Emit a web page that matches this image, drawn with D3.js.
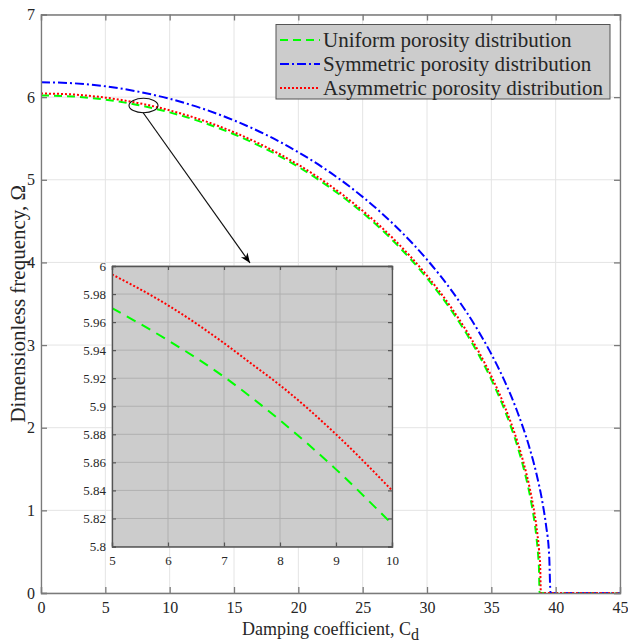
<!DOCTYPE html>
<html><head><meta charset="utf-8">
<script src="https://cdn.jsdelivr.net/npm/d3@7"></script>
<style>
body{margin:0;background:#fff}
svg text{font-family:'Liberation Serif','Times New Roman',serif !important;fill:#262626}
</style>
</head><body>
<svg id="c" width="628" height="644"></svg>
<script>
// ---- data ----
const uniformCd    = [0, 2.5, 5, 6, 7, 7.5, 8, 9, 10, 12.5, 15, 17.5, 20, 22.5, 25, 27.5, 30, 32, 34, 35, 36, 37, 37.5, 38, 38.25, 38.5, 38.65, 38.7, 38.75, 45];
const uniformOmega = [6.020, 6.008, 5.970, 5.947, 5.921, 5.906, 5.890, 5.855, 5.816, 5.698, 5.551, 5.371, 5.156, 4.901, 4.600, 4.241, 3.810, 3.395, 2.888, 2.584, 2.227, 1.789, 1.517, 1.179, 0.964, 0.683, 0.432, 0.306, 0, 0];

const symmetricCd    = [0, 2.5, 5, 7.5, 10, 12.5, 15, 17.5, 20, 22.5, 25, 27.5, 30, 32, 34, 35, 36, 37, 38, 38.5, 39, 39.25, 39.5, 39.6, 45];
const symmetricOmega = [6.180, 6.168, 6.131, 6.068, 5.980, 5.864, 5.719, 5.544, 5.334, 5.086, 4.793, 4.447, 4.034, 3.640, 3.168, 2.891, 2.575, 2.202, 1.739, 1.447, 1.072, 0.820, 0.439, 0, 0];

const asymmetricCd    = [0, 2.5, 5, 6, 7, 7.5, 8, 9, 10, 12.5, 15, 17.5, 20, 22.5, 25, 27.5, 30, 32, 34, 35, 36, 37, 37.5, 38, 38.25, 38.5, 38.7, 38.8, 38.85, 45];
const asymmetricOmega = [6.044, 6.032, 5.994, 5.972, 5.945, 5.930, 5.915, 5.880, 5.840, 5.723, 5.575, 5.396, 5.182, 4.927, 4.626, 4.269, 3.840, 3.427, 2.924, 2.623, 2.272, 1.843, 1.579, 1.257, 1.058, 0.810, 0.531, 0.307, 0, 0];

const seriesNames = ["Uniform porosity distribution", "Symmetric porosity distribution", "Asymmetric porosity distribution"];
const xTickValues = [0, 5, 10, 15, 20, 25, 30, 35, 40, 45];
const yTickValues = [0, 1, 2, 3, 4, 5, 6, 7];
const insetXTickValues = [5, 6, 7, 8, 9, 10];
const insetYTickValues = [5.8, 5.82, 5.84, 5.86, 5.88, 5.9, 5.92, 5.94, 5.96, 5.98, 6];

// ---- styles ----
const styles = [
  {color: "#00ff00", dash: "8,5", w: 2},
  {color: "#0000ff", dash: "9,3,2,3", w: 2},
  {color: "#ff0000", dash: "2,2", w: 2}
];
const seriesData = [
  uniformCd.map((c, i) => [c, uniformOmega[i]]),
  symmetricCd.map((c, i) => [c, symmetricOmega[i]]),
  asymmetricCd.map((c, i) => [c, asymmetricOmega[i]])
];

const svg = d3.select("#c");
const L = 41, R = 620, T = 14.5, B = 593;
const x = d3.scaleLinear().domain([0, 45]).range([L, R]);
const y = d3.scaleLinear().domain([0, 7]).range([B, T]);
const serif = "'Liberation Serif', 'Times New Roman', serif";

// grid
const g = svg.append("g");
g.selectAll(".vg").data(xTickValues).join("line")
  .attr("x1", d => x(d)).attr("x2", d => x(d)).attr("y1", T).attr("y2", B)
  .attr("stroke", "#e4e4e4").attr("stroke-width", 1);
g.selectAll(".hg").data(yTickValues).join("line")
  .attr("x1", L).attr("x2", R).attr("y1", d => y(d)).attr("y2", d => y(d))
  .attr("stroke", "#e4e4e4").attr("stroke-width", 1);

// curves
const line = d3.line().x(d => x(d[0])).y(d => y(d[1])).curve(d3.curveMonotoneX);
seriesData.forEach((s, i) => {
  svg.append("path").datum(s).attr("d", line)
    .attr("fill", "none").attr("stroke", styles[i].color)
    .attr("stroke-width", styles[i].w).attr("stroke-dasharray", styles[i].dash);
});

// axes
const axColor = "#7a7a7a";
const axB = svg.append("g").attr("transform", `translate(0,${B})`)
  .call(d3.axisBottom(x).tickValues(xTickValues).tickSize(-6).tickPadding(9).tickFormat(d3.format("d")));
const axT = svg.append("g").attr("transform", `translate(0,${T})`)
  .call(d3.axisTop(x).tickValues(xTickValues).tickSize(-6).tickFormat(""));
const axL = svg.append("g").attr("transform", `translate(${L},0)`)
  .call(d3.axisLeft(y).tickValues(yTickValues).tickSize(-6).tickPadding(6).tickFormat(d3.format("d")));
const axR = svg.append("g").attr("transform", `translate(${R},0)`)
  .call(d3.axisRight(y).tickValues(yTickValues).tickSize(-6).tickFormat(""));
[axB, axT, axL, axR].forEach(a => {
  a.attr("font-family", serif);
  a.select(".domain").attr("stroke", axColor).attr("stroke-width", 1.3);
  a.selectAll(".tick line").attr("stroke", axColor).attr("stroke-width", 1.3);
  a.selectAll(".tick text").attr("font-size", 16).style("font-family", serif).attr("fill", "#262626");
});

// axis labels
const xl = svg.append("text").attr("x", (L + R) / 2).attr("y", 635).attr("text-anchor", "middle").attr("font-size", 18);
xl.append("tspan").text("Damping coefficient, C");
xl.append("tspan").attr("dy", 5).attr("font-size", 16).text("d");
svg.append("text").attr("transform", `translate(25,${(T + B) / 2}) rotate(-90)`)
  .attr("text-anchor", "middle").attr("font-size", 21).text("Dimensionless frequency, Ω");

// legend
const lg = svg.append("g");
lg.append("rect").attr("x", 276).attr("y", 24.5).attr("width", 334).attr("height", 74.5)
  .attr("fill", "#cccccc").attr("stroke", "#555").attr("stroke-width", 1);
seriesNames.forEach((n, i) => {
  const yy = 40 + i * 24;
  lg.append("line").attr("x1", 280).attr("x2", 320).attr("y1", yy).attr("y2", yy)
    .attr("stroke", styles[i].color).attr("stroke-width", styles[i].w).attr("stroke-dasharray", styles[i].dash);
  lg.append("text").attr("x", 323).attr("y", yy + 7).attr("font-size", 21).attr("fill", "#111").text(n);
});

// ellipse + arrow
svg.append("defs").append("marker").attr("id", "ah").attr("viewBox", "0 0 10 10")
  .attr("refX", 10).attr("refY", 5).attr("markerWidth", 14).attr("markerHeight", 10)
  .attr("markerUnits", "userSpaceOnUse").attr("orient", "auto")
  .append("path").attr("d", "M0,1 L10,5 L0,9 L3,5 Z").attr("fill", "#000");
svg.append("ellipse").attr("cx", 143.5).attr("cy", 105.5).attr("rx", 14.5).attr("ry", 7.2)
  .attr("fill", "none").attr("stroke", "#111").attr("stroke-width", 1.1);
svg.append("line").attr("x1", 143).attr("y1", 112.5).attr("x2", 250).attr("y2", 263)
  .attr("stroke", "#111").attr("stroke-width", 1.2).attr("marker-end", "url(#ah)");

// inset
const iL = 112, iR = 392, iT = 266, iB = 546.5;
const xi = d3.scaleLinear().domain([5, 10]).range([iL, iR]);
const yi = d3.scaleLinear().domain([5.8, 6]).range([iB, iT]);
const ins = svg.append("g");
ins.append("rect").attr("x", iL).attr("y", iT).attr("width", iR - iL).attr("height", iB - iT).attr("fill", "#cccccc");
ins.selectAll(".ivg").data(insetXTickValues).join("line")
  .attr("x1", d => xi(d)).attr("x2", d => xi(d)).attr("y1", iT).attr("y2", iB)
  .attr("stroke", "#b0b0b0").attr("stroke-width", 1);
ins.selectAll(".ihg").data(insetYTickValues).join("line")
  .attr("x1", iL).attr("x2", iR).attr("y1", d => yi(d)).attr("y2", d => yi(d))
  .attr("stroke", "#b0b0b0").attr("stroke-width", 1);
ins.append("clipPath").attr("id", "ic").append("rect").attr("x", iL).attr("y", iT).attr("width", iR - iL).attr("height", iB - iT);
const iline = d3.line().x(d => xi(d[0])).y(d => yi(d[1])).curve(d3.curveMonotoneX);
[0, 2].forEach(i => {
  ins.append("path").datum(seriesData[i].filter(d => d[0] >= 4 && d[0] <= 11)).attr("d", iline)
    .attr("clip-path", "url(#ic)")
    .attr("fill", "none").attr("stroke", styles[i].color).attr("stroke-width", 2)
    .attr("stroke-dasharray", i === 0 ? "10,7" : "2,2");
});
const iaB = ins.append("g").attr("transform", `translate(0,${iB})`)
  .call(d3.axisBottom(xi).tickValues(insetXTickValues).tickSize(-4).tickPadding(9).tickFormat(d3.format("d")));
const iaT = ins.append("g").attr("transform", `translate(0,${iT})`)
  .call(d3.axisTop(xi).tickValues(insetXTickValues).tickSize(-4).tickFormat(""));
const iaL = ins.append("g").attr("transform", `translate(${iL},0)`)
  .call(d3.axisLeft(yi).tickValues(insetYTickValues).tickSize(-4).tickPadding(6).tickFormat(d => String(+d.toFixed(2))));
const iaR = ins.append("g").attr("transform", `translate(${iR},0)`)
  .call(d3.axisRight(yi).tickValues(insetYTickValues).tickSize(-4).tickFormat(""));
[iaB, iaT, iaL, iaR].forEach(a => {
  a.attr("font-family", serif);
  a.select(".domain").attr("stroke", "#555").attr("stroke-width", 1.3);
  a.selectAll(".tick line").attr("stroke", "#555").attr("stroke-width", 1.2);
  a.selectAll(".tick text").attr("font-size", 13).style("font-family", serif).attr("fill", "#262626");
});
</script>
</body></html>
